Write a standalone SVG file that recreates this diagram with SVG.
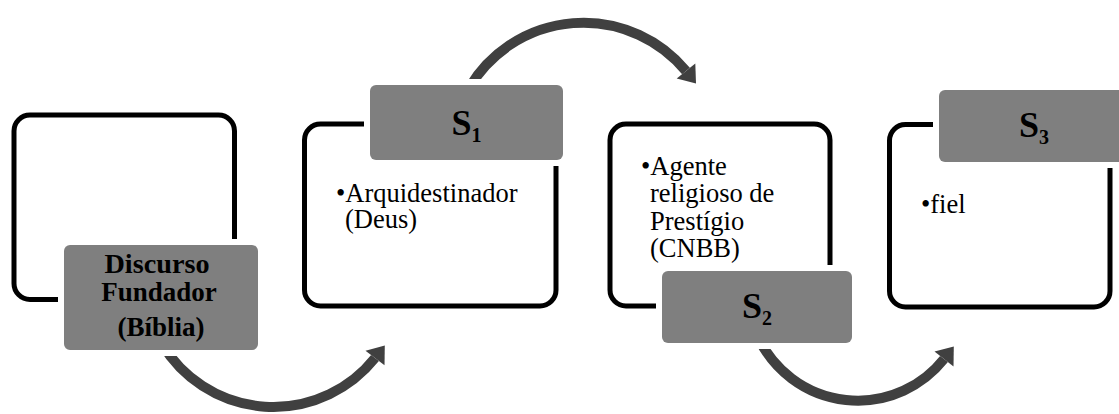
<svg xmlns="http://www.w3.org/2000/svg" width="1119" height="414" viewBox="0 0 1119 414">
<style>
.frame{fill:#fff;stroke:#000;stroke-width:5}
.halo{fill:#fff}
.lab{fill:#7f7f7f}
.arc{fill:none;stroke:#404040;stroke-width:10}
.head{fill:#404040}
.bold{font-family:"Liberation Serif","Times New Roman",serif;font-weight:bold;fill:#000;text-anchor:middle}
.body{font-family:"Liberation Serif","Times New Roman",serif;font-size:26.5px;fill:#000}
</style>
<rect width="1119" height="414" fill="#fff"/>
<g id="connectors">
<path class="arc" d="M469,88 A133 133 0 0 1 686,71"/>
<polygon class="head" points="695.3,63.5 676.7,78.5 696,83.4"/>
<path class="arc" d="M162,344 A130 130 0 0 0 375,358"/>
<polygon class="head" points="384.5,365.3 365.5,350.7 384.8,345.4"/>
<path class="arc" d="M759,339 A110 110 0 0 0 944,359"/>
<polygon class="head" points="953.5,366.4 934.5,351.6 953.8,346.4"/>
</g>
<g id="node-discurso">
<rect class="frame" x="14" y="115" width="220.5" height="184.5" rx="16"/>
<rect class="halo" x="58" y="239" width="206" height="117" rx="8"/>
<rect class="lab" x="64" y="245" width="194" height="105" rx="6"/>
<text class="bold" font-size="27" x="157" y="273" textLength="105" lengthAdjust="spacingAndGlyphs">Discurso</text>
<text class="bold" font-size="27" x="159" y="301">Fundador</text>
<text class="bold" font-size="27" x="161" y="336">(Bíblia)</text>
</g>
<g id="node-s1">
<rect class="frame" x="304.5" y="124" width="251.5" height="182" rx="16"/>
<rect class="halo" x="364" y="79" width="205" height="87" rx="8"/>
<rect class="lab" x="370" y="85" width="193" height="75" rx="6"/>
<text class="bold" font-size="36" x="466.5" y="135">S<tspan font-size="20" dy="7">1</tspan></text>
<text class="body" x="336" y="202">•Arquidestinador</text>
<text class="body" x="345" y="228">(Deus)</text>
</g>
<g id="node-s2">
<rect class="frame" x="610" y="124" width="220" height="182" rx="16"/>
<rect class="halo" x="656" y="265" width="202" height="84" rx="8"/>
<rect class="lab" x="662" y="271" width="190" height="72" rx="6"/>
<text class="bold" font-size="36" x="757" y="318">S<tspan font-size="20" dy="7">2</tspan></text>
<text class="body" x="641" y="175">•Agente</text>
<text class="body" x="650" y="202">religioso de</text>
<text class="body" x="650" y="230">Prestígio</text>
<text class="body" x="650" y="257">(CNBB)</text>
</g>
<g id="node-s3">
<rect class="frame" x="889.5" y="124.5" width="220.5" height="182.5" rx="16"/>
<rect class="halo" x="933" y="84" width="205" height="84" rx="8"/>
<rect class="lab" x="939" y="90" width="193" height="72" rx="6"/>
<text class="bold" font-size="36" x="1034" y="137">S<tspan font-size="20" dy="7">3</tspan></text>
<text class="body" x="921" y="213">•fiel</text>
</g>
</svg>
